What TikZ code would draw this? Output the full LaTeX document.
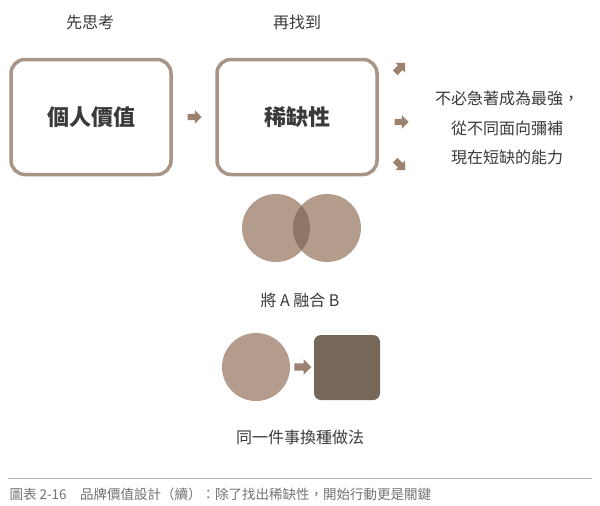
\documentclass[tikz,border=0pt]{standalone}
\usepackage{fontspec}
\setmainfont{Noto Sans CJK TC}
\usetikzlibrary{shapes.arrows}
\definecolor{frame}{HTML}{A89585}
\definecolor{arr}{HTML}{9C8270}
\definecolor{circ}{HTML}{B39C8C}
\definecolor{ovl}{HTML}{8E7565}
\definecolor{dark}{HTML}{766758}
\definecolor{txt}{HTML}{3A3A3A}
\tikzset{
 box/.style={draw=frame,line width=3.5pt,rounded corners=14pt,minimum width=160pt,minimum height=115pt,font=\bfseries\fontsize{22}{24}\selectfont,text=txt},
 fat/.style={single arrow,fill=arr,draw=none,minimum height=14pt,inner sep=3pt,single arrow head extend=3.5pt,text width=0pt,text height=0pt,text depth=0pt},
 lbl/.style={font=\fontsize{16}{18}\selectfont,text=txt},
 side/.style={font=\fontsize{16}{18}\selectfont,text=txt}
}
\begin{document}
\begin{tikzpicture}[x=1pt,y=-1pt]
\useasboundingbox[fill=white] (0,0) rectangle (600,506);
\node[lbl] (t1) at (90,22) {先思考};
\node[lbl] (t2) at (297,22) {再找到};
\node[box] (b1) at (91,117) {個人價值};
\node[box] (b2) at (297,117) {稀缺性};
\node[fat] (a1) at (193,117) {};
\node[fat,rotate=45] (a2) at (399,69) {};
\node[fat] (a3) at (400,122) {};
\node[fat,rotate=-45] (a4) at (399,164) {};
\node[side] (s1) at (507,98) {不必急著成為最強，};
\node[side] (s2) at (507,128) {從不同面向彌補};
\node[side] (s3) at (507,157) {現在短缺的能力};
\fill[circ] (276,228) circle (34);
\fill[circ] (327,228) circle (34);
\begin{scope}
\clip (276,228) circle (34);
\fill[ovl] (327,228) circle (34);
\end{scope}
\node[lbl] (m) at (300,300) {將 A 融合 B};
\fill[circ] (256,367) circle (34);
\node[fat,minimum height=17pt,inner sep=3.5pt,single arrow head extend=4pt] (a5) at (301,367) {};
\fill[dark,rounded corners=7pt] (314,335) rectangle (380,400);
\node[lbl] (n) at (300,437) {同一件事換種做法};
\draw[gray!60,line width=0.6pt] (8,478) -- (592,478);
\node[anchor=west,font=\fontsize{13.5}{15}\selectfont,text=gray!90!black] (cap) at (6,494) {圖表 2-16　品牌價值設計（續）：除了找出稀缺性，開始行動更是關鍵};
\end{tikzpicture}
\end{document}
